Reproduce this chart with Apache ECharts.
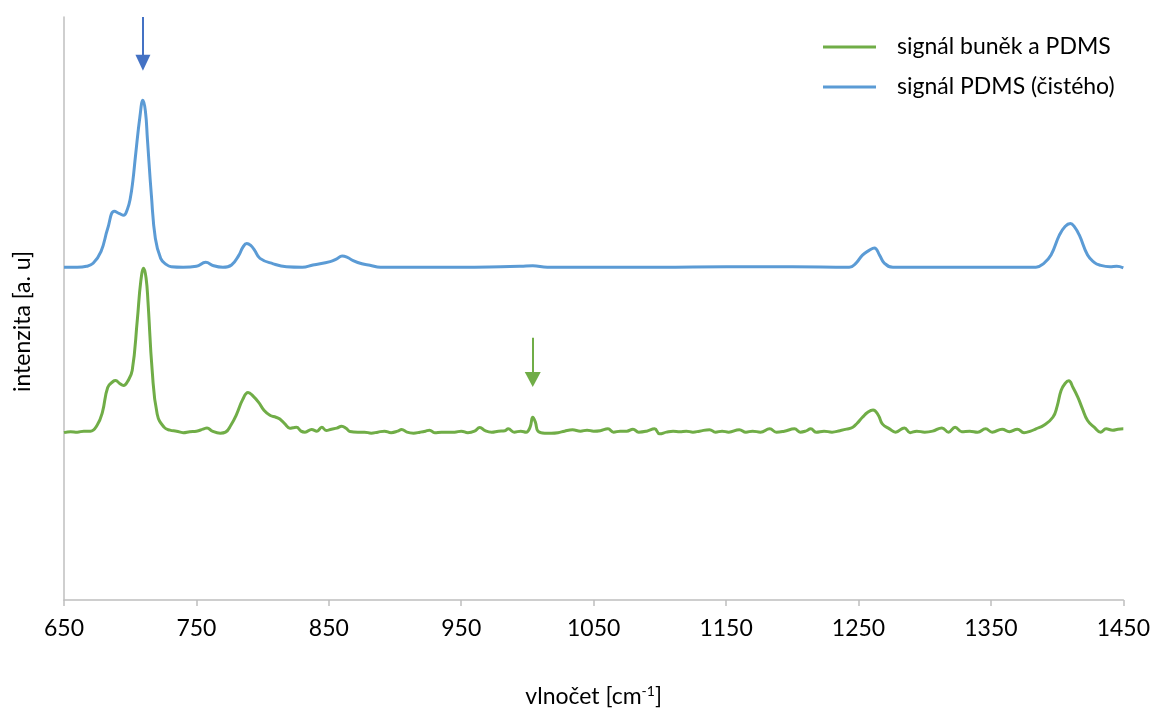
<!DOCTYPE html>
<html>
<head>
<meta charset="utf-8">
<script src="https://cdn.jsdelivr.net/npm/echarts@6/dist/echarts.min.js"></script>
<style>
html,body{margin:0;padding:0;background:#fff;}
#chart{width:1153px;height:713px;}
</style>
</head>
<body>
<div id="chart"></div>
<script>
// x axis ticks
var xTicks = [650, 750, 850, 950, 1050, 1150, 1250, 1350, 1450];
var seriesNames = ['signál buněk a PDMS', 'signál PDMS (čistého)'];

// signál PDMS (čistého) – wavenumber / intensity [a. u]
var pdmsX = [650,660,667,672,678,683,688,692,695,698,700,702,704,707.4,709.6,711.5,713,716,719,723,727,731,740,750,757,763,770,776.5,782,785,788,791,794,798,808,818,830,838,851,856,860,864,868,875,881,889,900,950,980,995,1004,1015,1050,1100,1150,1200,1243,1248,1253,1258,1262,1266,1269.6,1276,1300,1350,1384,1390,1395.4,1401.7,1406,1410,1413,1416.8,1423,1428,1432,1440,1445,1450];
var pdmsY = [335,335,336,339,351,374,391.3,389,387.3,394,404,422,447.3,487.3,503.3,492,464,407.3,364,344,338,335.5,335,336,340,336.5,335,337.3,347,355,359,357,352,344,338.5,335.5,335,337.3,340.7,343.5,346.3,345,342,338.5,337,335,335,335,335.5,336,336.5,335,335,335,335.5,335.5,335,339,347.3,352,354.5,347,339,335,335,335,335,339,347.3,367.3,376,379,376,367.3,347.3,340,337.3,335.5,336,334.5];

// signál buněk a PDMS – wavenumber / intensity [a. u]
var cellX = [650,655,660,665,670,675,679,683,687,689,692,695,698,701.5,705.3,708,710.2,712,713.4,716.6,720.4,725.5,730,735,740,745,750,755,758,762,768,772,776,780,785,789,793,797,801,805.5,810,813,817,820.6,823,825.6,829,832,837,841,844.7,848,852,856,859.7,863,866,872,877,882,887,892,897,902,905,909,914,919,923,926,930,935,940,945,950,955,960,964,968,973,978,983,985.5,990,995,999,1002,1004,1006,1008,1013,1018,1023,1028,1034,1040,1045,1050,1055,1060.8,1065,1070,1075,1079.7,1084,1090,1096,1099.8,1105,1110,1115,1120,1125,1130,1137.5,1142,1147,1152,1160,1165,1170,1176,1183,1188,1194,1201.7,1206,1210,1214,1218,1224,1230,1236,1241,1245.7,1249,1253,1257,1261,1265,1268,1273.4,1278,1284.7,1289,1294,1300,1306,1313,1318,1323,1328,1334,1340,1346,1351,1358.5,1364,1370,1375,1380,1384,1390,1396.8,1400,1403,1406,1408.8,1412,1415.7,1419,1423,1428,1433,1437,1442,1446,1450];
var cellY = [168.5,169.5,169,170,170,176,189,214,220,221,218,216,220,231,281,321,334,324,301,231,187,174,171,170,168.5,169.5,170,172,173.3,170,168,169,176,186,202,209,205,199,191,186,184,182.3,177,173,173.5,174,170,169,171.7,170,174,170.7,172,173,175,173,169.7,169,169,168,169,170,168.5,170,171.7,169,168,169,170,171,168.5,169,169,169,170,168.5,170,173.7,170.5,169,170,170.5,172.3,169,170,169,174,184,179,170,168,168,168.5,170,171.3,170,171,170,170.5,172.3,169,170,170,172,169,170,172.3,167.3,169,170,169.5,170,169,170,171.5,169,170,169,171.5,169,170,169,172.3,169,170,172.3,169,170,172.3,169,170,169,170.5,172,174,178,184,189,191.3,186,177.3,172.3,169,173.3,168.5,170,169,170,173.3,169,174,169.5,170,169,172.3,169,172,169.5,172,168.5,170,172.3,176,184,195,211,218,220.7,214,204,193,180.7,174,169,172.3,171,172,172.3];

// annotation arrows (wavenumber, from intensity, to intensity)
var arrowPdms = [709.6, 587, 541];
var arrowCell = [1004, 264, 222];

function zip(xs, ys){ return xs.map(function(x,i){ return [x, ys[i]]; }); }

var FONT = 'Lato';
var FS = 23;
var chart = echarts.init(document.getElementById('chart'), null, {renderer:'canvas'});
chart.setOption({
  animation: false,
  textStyle: {fontFamily: FONT, color: '#000'},
  grid: {left: 64, right: 29, top: 17, bottom: 109, containLabel: false},
  legend: {
    orient: 'vertical', left: 818, top: 29,
    itemWidth: 53, itemHeight: 3, itemGap: 14,
    icon: 'rect',
    data: seriesNames,
    textStyle: {fontFamily: FONT, fontSize: FS, color: '#000', lineHeight: 26, padding: [0,0,0,16]}
  },
  xAxis: {
    type: 'value', min: xTicks[0], max: xTicks[xTicks.length-1], interval: 100,
    name: '{a|vlnočet [cm}{s|-1}{a|]}',
    nameLocation: 'middle', nameGap: 84,
    nameTextStyle: {rich: {
      a: {fontFamily: FONT, fontSize: FS, color: '#000'},
      s: {fontFamily: FONT, fontSize: 14, color: '#000', padding: [0,0,11,0]}
    }},
    axisLine: {show: true, lineStyle: {color: '#BFBFBF', width: 1.5}},
    axisTick: {show: true, length: 6, lineStyle: {color: '#BFBFBF', width: 1.5}},
    axisLabel: {fontFamily: FONT, fontSize: FS, color: '#000', margin: 17,
      formatter: function(v){ return String(v); }},
    splitLine: {show: false}
  },
  yAxis: {
    type: 'value', min: 0, max: 587,
    name: 'intenzita [a. u]', nameLocation: 'middle', nameGap: 30,
    nameTextStyle: {fontFamily: FONT, fontSize: FS, color: '#000', padding: [0,26,0,0]},
    axisLine: {show: true, lineStyle: {color: '#BFBFBF', width: 1.5}},
    axisTick: {show: false},
    axisLabel: {show: false},
    splitLine: {show: false}
  },
  series: [
    {
      name: seriesNames[0], type: 'line', data: zip(cellX, cellY),
      symbol: 'none', smooth: 0.45, color: '#70AD47',
      lineStyle: {color: '#70AD47', width: 3},
      markLine: {
        silent: true, symbol: ['none', 'triangle'], symbolSize: [16, 15],
        label: {show: false},
        lineStyle: {color: '#70AD47', width: 2, type: 'solid'},
        data: [[{coord: [arrowCell[0], arrowCell[1]]}, {coord: [arrowCell[0], arrowCell[2]]}]]
      }
    },
    {
      name: seriesNames[1], type: 'line', data: zip(pdmsX, pdmsY),
      symbol: 'none', smooth: 0.45, color: '#5B9BD5',
      lineStyle: {color: '#5B9BD5', width: 3},
      markLine: {
        silent: true, symbol: ['none', 'triangle'], symbolSize: [15, 16],
        label: {show: false},
        lineStyle: {color: '#4472C4', width: 2, type: 'solid'},
        data: [[{coord: [arrowPdms[0], arrowPdms[1]]}, {coord: [arrowPdms[0], arrowPdms[2]]}]]
      }
    }
  ]
});
</script>
</body>
</html>
